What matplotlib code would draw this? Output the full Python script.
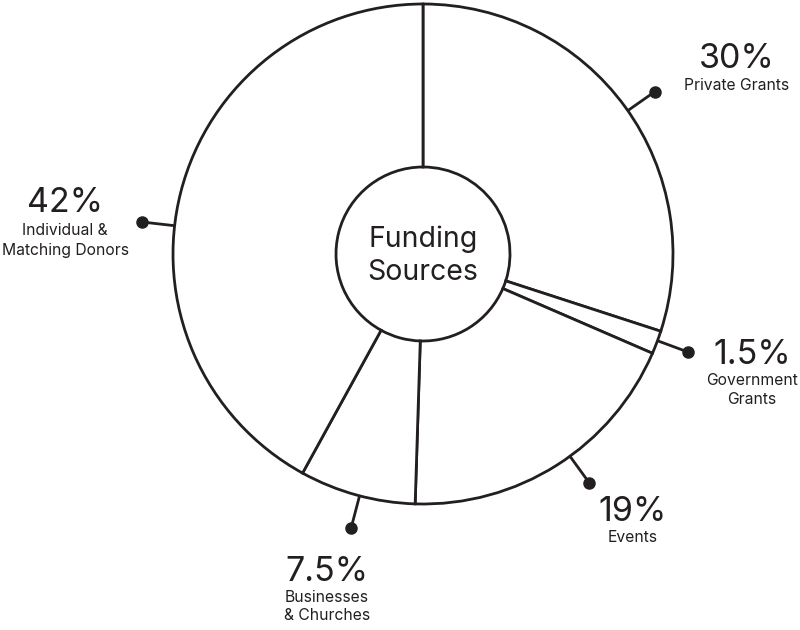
import numpy as np
import matplotlib.pyplot as plt

plt.rcParams['font.family'] = ['Inter', 'DejaVu Sans']

# data, clockwise from the top
shares = [30, 1.5, 19, 7.5, 42]
pct_labels = ['30%', '1.5%', '19%', '7.5%', '42%']
names = [['Private Grants'], ['Government', 'Grants'], ['Events'],
         ['Businesses', '& Churches'], ['Individual &', 'Matching Donors']]

ink = '#231f20'
W, H = 800, 630
cx, cy = 423, H - 254
r_out, r_in = 250, 87

# leader angles (deg), label x, baseline of % text, baselines of name lines (px from top)
leader_ang = [35, -20.3, -54, -104.7, 173.5]
label_x = [737, 752, 633, 327, 65]
pct_base = [68, 364, 521, 581, 212]
name_base = [[90], [385, 404], [542], [602, 620], [235, 255]]

fig = plt.figure(figsize=(8, 6.3), dpi=100)
ax = fig.add_axes([0, 0, 1, 1])

ax.pie(shares, startangle=90, counterclock=False, radius=r_out, center=(cx, cy),
       wedgeprops=dict(width=r_out - r_in, facecolor='white', edgecolor=ink, linewidth=2))

for i in range(len(shares)):
    a = np.deg2rad(leader_ang[i])
    x0, y0 = cx + r_out * np.cos(a), cy + r_out * np.sin(a)
    x1, y1 = cx + 283 * np.cos(a), cy + 283 * np.sin(a)
    ax.plot([x0, x1], [y0, y1], color=ink, lw=2, solid_capstyle='butt')
    ax.plot(x1, y1, 'o', color=ink, markersize=8)
    ax.text(label_x[i], H - pct_base[i], pct_labels[i], ha='center', va='baseline',
            fontsize=24.5, color=ink)
    for line, yb in zip(names[i], name_base[i]):
        ax.text(label_x[i], H - yb, line, ha='center', va='baseline', fontsize=11.3,
                color=ink)

ax.text(cx, H - 247, 'Funding', ha='center', va='baseline', fontsize=20.5, color=ink)
ax.text(cx, H - 280, 'Sources', ha='center', va='baseline', fontsize=20.5, color=ink)

ax.set_xlim(0, W)
ax.set_ylim(0, H)
ax.set_aspect('auto')
ax.axis('off')

fig.savefig('out.png', dpi=100, facecolor='white')
